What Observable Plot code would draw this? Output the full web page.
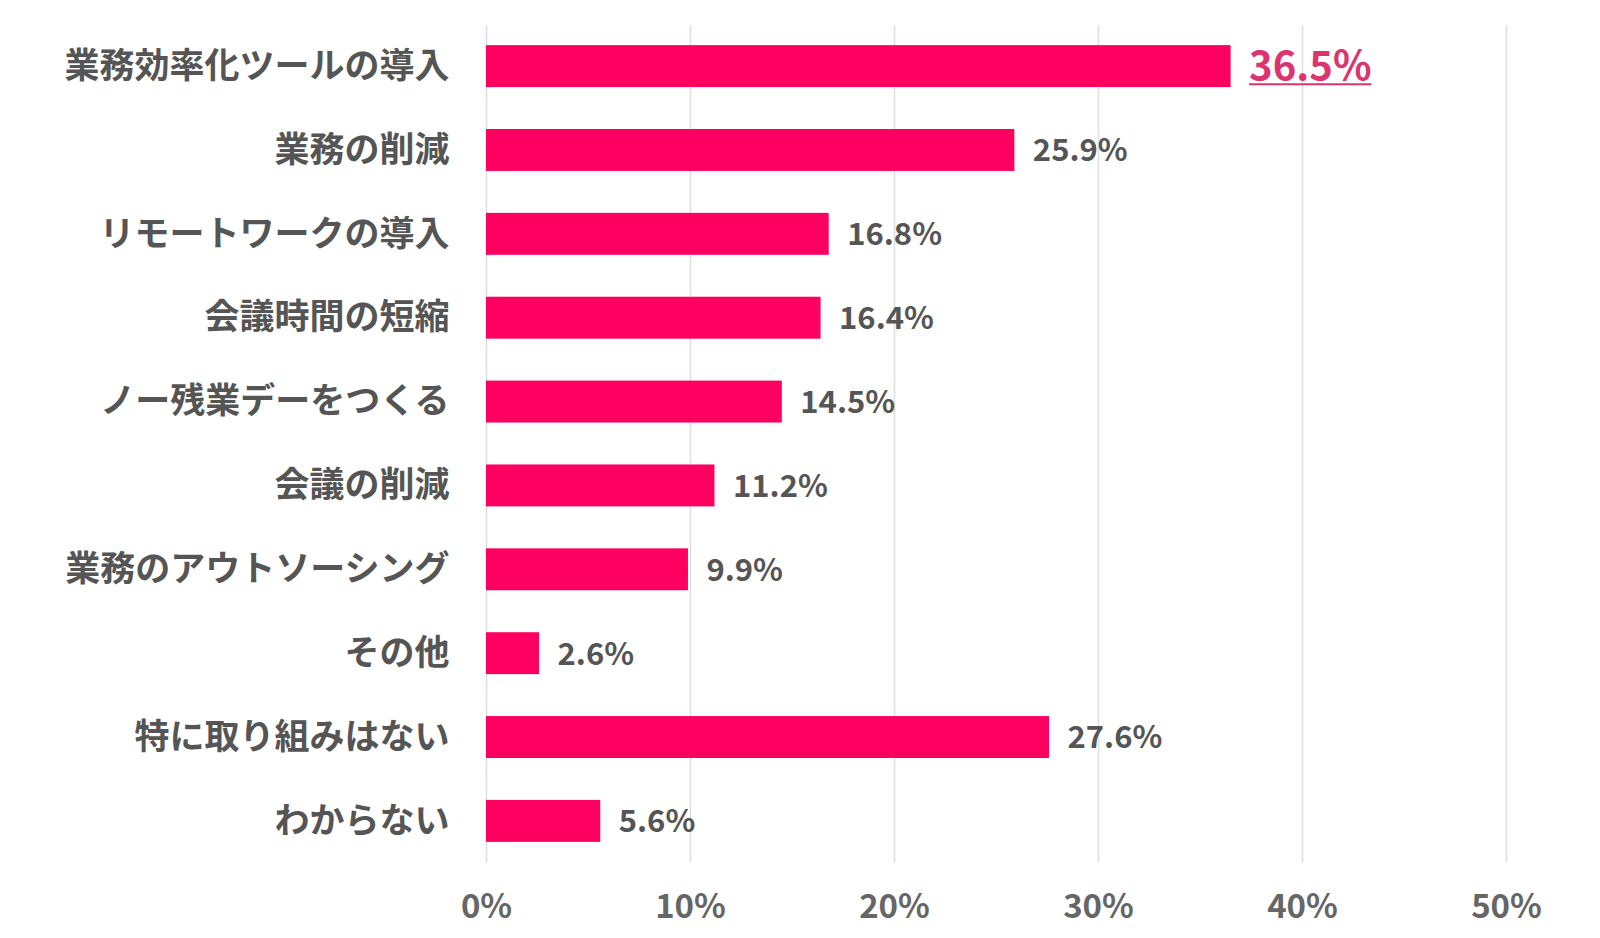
<!DOCTYPE html>
<html>
<head>
<meta charset="utf-8">
<script src="https://cdn.jsdelivr.net/npm/d3@7"></script>
<script src="https://cdn.jsdelivr.net/npm/@observablehq/plot@0.6"></script>
<style>
  html, body { margin: 0; padding: 0; background: #fff; }
  #chart svg { display: block; }
</style>
</head>
<body>
<div id="chart"></div>
<script>
const categories = [
  "業務効率化ツールの導入",
  "業務の削減",
  "リモートワークの導入",
  "会議時間の短縮",
  "ノー残業デーをつくる",
  "会議の削減",
  "業務のアウトソーシング",
  "その他",
  "特に取り組みはない",
  "わからない"
];
const values = [36.5, 25.9, 16.8, 16.4, 14.5, 11.2, 9.9, 2.6, 27.6, 5.6];
const xTicks = [0, 10, 20, 30, 40, 50];
const highlightIndex = [0];
const highlightColor = "#dc3470";

const data = categories.map((c, i) => ({category: c, value: values[i]}));
const highlight = data.filter((d, i) => highlightIndex.includes(i));
const rest = data.filter((d, i) => !highlightIndex.includes(i));
const fmt = d => `${d.value.toFixed(1)}%`;

const chart = Plot.plot({
  width: 1600,
  height: 938,
  marginTop: 25,
  marginBottom: 76,
  marginLeft: 486,
  marginRight: 94,
  style: {fontFamily: "'Noto Sans CJK JP', 'Noto Sans', sans-serif", background: "#fff"},
  x: {domain: [0, 50], ticks: xTicks},
  y: {domain: categories, paddingInner: 0.5, paddingOuter: 0.24, round: false},
  marks: [
    Plot.gridX(xTicks, {stroke: "#dedede", strokeOpacity: 1, strokeWidth: 1.5}),
    Plot.barX(data, {x: "value", y: "category", fill: "#fe0060"}),
    Plot.text(rest, {x: "value", y: "category", text: fmt, textAnchor: "start", dx: 18, dy: 1,
      fontSize: 31, fontWeight: "bold", fill: "#555"}),
    Plot.text(highlight, {x: "value", y: "category", text: fmt, textAnchor: "start", dx: 18, dy: 1,
      fontSize: 40, fontWeight: "bold", fill: highlightColor}),
    Plot.axisX({ticks: xTicks, tickFormat: d => `${d}%`, tickSize: 0, tickPadding: 32,
      fontSize: 33, fontWeight: "bold", color: "#666", label: null}),
    Plot.axisY({tickSize: 0, tickPadding: 37, fontSize: 35, fontWeight: "bold", color: "#555", label: null})
  ]
});
document.getElementById("chart").appendChild(chart);

// underline the highlighted value label, measured from its rendered text
const textGroups = chart.querySelectorAll('g[aria-label="text"]');
const hlGroup = textGroups[textGroups.length - 1];
if (hlGroup) {
  hlGroup.querySelectorAll("text").forEach(t => {
    const b = t.getBBox();
    const m = t.getCTM && t.parentNode.getCTM ? null : null;
    const line = document.createElementNS("http://www.w3.org/2000/svg", "line");
    const yLine = b.y + b.height * 0.86;
    line.setAttribute("x1", b.x);
    line.setAttribute("x2", b.x + b.width);
    line.setAttribute("y1", yLine);
    line.setAttribute("y2", yLine);
    line.setAttribute("stroke", highlightColor);
    line.setAttribute("stroke-width", 2);
    if (t.getAttribute("transform")) line.setAttribute("transform", t.getAttribute("transform"));
    t.parentNode.appendChild(line);
  });
}
</script>
</body>
</html>
